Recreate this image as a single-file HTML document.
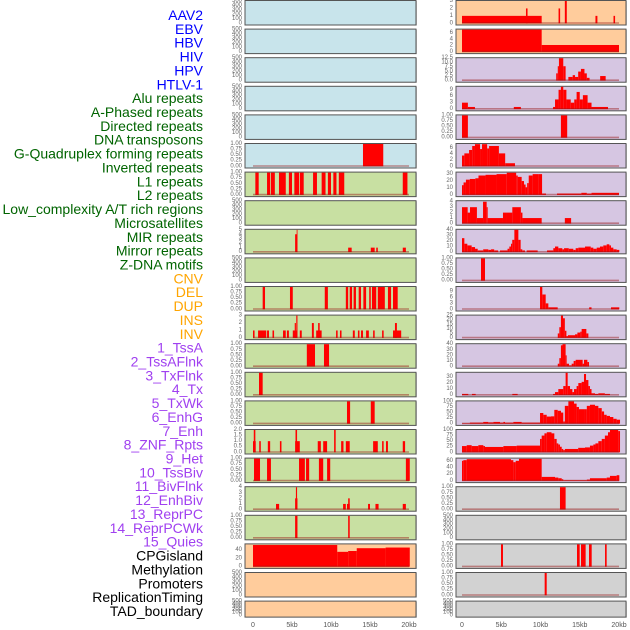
<!DOCTYPE html>
<html><head><meta charset="utf-8"><style>
html,body{margin:0;padding:0;background:#fff;}
svg{display:block;font-family:"Liberation Sans",sans-serif;}
</style></head><body>
<svg id="chart" width="630" height="630" viewBox="0 0 630 630"></svg>
<script>
// ---------- label data ----------
const trackLabels = ["AAV2","EBV","HBV","HIV","HPV","HTLV-1","Alu repeats","A-Phased repeats","Directed repeats","DNA transposons","G-Quadruplex forming repeats","Inverted repeats","L1 repeats","L2 repeats","Low_complexity A/T rich regions","Microsatellites","MIR repeats","Mirror repeats","Z-DNA motifs","CNV","DEL","DUP","INS","INV","1_TssA","2_TssAFlnk","3_TxFlnk","4_Tx","5_TxWk","6_EnhG","7_Enh","8_ZNF_Rpts","9_Het","10_TssBiv","11_BivFlnk","12_EnhBiv","13_ReprPC","14_ReprPCWk","15_Quies","CPGisland","Methylation","Promoters","ReplicationTiming","TAD_boundary"];
const labelGroups = [6,13,5,15,5];
const groupColors = ["#0000ff","#006400","#ffa500","#a040f0","#000000"];
const xTickLabels = ["0","5kb","10kb","15kb","20kb"];
const xTickValues = [0,5,10,15,20];

// ---------- series data: [startKb, endKb, value] ----------
const L05 = [[14.1,16.7,1]];
const L06 = [[0.3,0.73,1],[1.8,2.2,1],[2.3,2.8,1],[3.33,4.2,1],[4.6,5.0,1],[5.3,5.9,1],[6.0,6.5,1],[7.7,8.2,1],[8.8,9.3,1],[9.6,10.0,1],[10.3,10.7,1],[11.0,11.7,1],[19.2,19.8,1]];
const L08 = [[5.4,5.7,4],[5.6,5.7,5],[12.2,12.65,1],[15.1,15.6,1],[15.8,16.0,1],[19.2,19.6,1]];
const L10 = [[1.24,1.54,1],[4.74,5.1,1],[9.2,9.6,1],[11.9,12.2,1],[12.4,12.7,1],[12.9,13.2,1],[13.55,13.85,1],[14.15,14.5,1],[14.9,15.1,1],[15.25,15.8,1],[16.0,16.9,1],[17.3,17.7,1],[17.95,18.55,1]];
const L11 = [[0,0.2,1],[0.65,1.7,1],[1.8,2.05,1],[2.5,2.7,1],[3.85,4.2,1],[4.35,4.6,1],[5.1,5.7,1],[5.35,5.5,2],[5.55,5.7,3],[6.0,6.25,1],[7.55,7.8,2],[8.1,8.8,1],[8.35,8.55,2],[10.65,10.85,1],[11.15,11.35,1],[12.8,13.05,1],[13.45,13.65,1],[13.85,14.1,1],[14.5,14.85,1],[15.4,15.6,1],[16.55,16.75,1],[17.95,19.0,1],[18.2,18.45,2]];
const L12 = [[6.9,7.95,1],[9.1,9.75,1]];
const L13 = [[0.77,1.24,1]];
const L14 = [[12.05,12.45,1],[15.1,15.6,1]];
const L15 = [[0,0.35,1],[0.1,0.3,2],[0.8,1.0,1],[1.9,2.2,1],[3.45,3.65,1],[5.4,6.0,1],[5.45,5.65,2],[8.3,8.7,1],[9.0,9.5,1],[10.4,10.6,2],[11.3,11.6,1],[11.9,12.4,1],[15.4,16.0,1],[16.55,16.75,1],[17.05,17.3,1],[19.2,19.5,1]];
const L16 = [[0.13,0.9,1],[1.8,2.3,1],[5.9,6.65,1],[6.8,7.2,1],[8.45,9.0,1],[9.5,9.9,1],[19.6,20.1,1]];
const L17 = [[2.95,3.35,1],[5.4,5.7,2],[5.5,5.65,4],[11.55,11.9,1],[12.05,12.4,1],[12.2,12.4,2],[14.75,15.0,1],[15.7,16.1,1],[19.2,19.6,1]];
const L18 = [[5.4,5.7,1],[12.2,12.4,1]];
const L19 = [[0,10.8,52.5],[10.8,12.2,36],[12.2,13.3,38],[13.3,17.0,44.8],[17.0,20.1,46.4]];

const R00 = [[0,10.15,1],[8.15,8.35,2],[12.3,12.5,2],[13.1,13.35,3],[17.0,17.25,1],[19.3,19.5,1]];
const R01 = [[0,10.15,7.1],[10.15,20,2.2]];
const R02 = [[12.0,12.2,4],[12.2,12.35,8],[12.35,12.9,12.5],[12.9,13.2,8],[13.55,14.1,2],[14.1,14.4,3],[14.4,14.8,2],[14.8,15.15,5],[15.15,15.6,6.5],[15.6,15.9,4],[15.9,16.25,1.5],[17.6,18.3,2.5]];
const R03 = [[0,0.75,3],[0.75,1.65,1],[6.6,7.5,1],[11.6,11.85,1],[11.85,12.3,4.5],[12.3,12.6,9],[12.6,12.9,10.4],[12.9,13.3,9],[13.3,13.85,4.5],[13.85,14.3,3],[14.3,14.6,4.5],[14.6,15.0,8],[15.0,15.4,4.5],[15.4,16.0,6.5],[16.0,16.5,3],[16.5,18.6,1]];
const R04 = [[0,0.75,1],[12.6,13.4,1]];
const R05 = [[0,0.3,3.5],[0.3,0.9,4.2],[0.9,1.3,5.3],[1.3,1.65,6.6],[1.65,2.3,7.2],[2.3,2.55,5.6],[2.55,3.2,7.2],[3.2,3.45,5.8],[3.45,4.7,6.6],[4.7,5.5,4.2],[5.5,6.75,1]];
const R06 = [[0,0.2,14],[0.2,0.5,18],[0.5,1,22],[1,1.7,23],[1.7,2.1,24],[2.1,3.0,28],[3.0,4.4,29],[4.4,5.7,30],[5.7,6.9,32],[6.9,7.1,28],[7.1,7.6,26],[7.6,7.9,20],[7.9,8.1,15],[8.1,8.3,11],[8.3,8.5,17],[8.5,9.0,28],[9.0,9.7,30],[9.7,10.2,30],[10.2,10.7,2],[12.1,15.2,2],[15.2,15.9,3],[15.9,16.5,2],[16.5,18.6,3],[18.6,20,3]];
const R07 = [[0,0.72,3],[0.72,1.02,2],[1.02,1.9,3],[1.9,2.68,1],[2.68,3.14,4],[3.14,3.27,3],[3.27,5.22,1],[5.22,5.73,2],[5.73,6.41,2],[6.41,7.5,3],[7.5,7.7,2],[7.7,10.15,1],[13.1,13.9,1]];
const R08 = [[0,0.3,25],[0.3,0.68,15],[0.68,1.23,12],[1.23,1.66,9],[1.66,2.0,6],[2.0,2.7,3],[2.7,3.35,5],[3.35,3.7,4],[3.7,4.1,5],[4.1,4.6,3],[4.84,5.8,3],[5.8,6.03,6],[6.03,6.24,10],[6.24,6.4,15],[6.4,6.67,22],[6.67,7.18,40],[7.18,7.47,22],[7.47,7.68,5],[7.68,8.02,3],[8.24,9.64,3],[10.83,11.63,3],[11.63,11.85,7],[11.85,12.27,10],[12.27,12.78,7],[12.78,13.0,5],[13.0,13.6,7],[13.6,14.18,6],[14.18,14.48,4],[14.48,14.82,7],[14.82,15.67,8],[15.67,16.4,10],[16.4,16.73,8],[16.73,17.16,6],[17.16,17.58,8],[17.58,18.0,10],[18.0,18.43,12],[18.43,18.77,14],[18.77,18.98,12],[18.98,19.28,8],[19.28,19.7,5],[19.7,20.04,4]];
const R09 = [[2.42,2.93,1]];
const R10 = [[9.94,10.23,11.3],[10.23,10.66,7.5],[10.66,11.0,3],[11.0,12.19,1],[16.2,16.5,1],[18.98,20.04,1]];
const R11 = [[12.2,12.4,5],[12.4,12.6,12],[12.6,12.87,25],[12.87,13.1,22],[13.1,13.3,8],[13.3,13.5,2],[13.5,14.4,3],[14.4,14.7,4],[14.7,15.07,6],[15.07,15.24,7],[15.24,15.84,10],[15.84,16.1,5]];
const R12 = [[12.2,12.4,5],[12.4,12.6,15],[12.6,12.8,38],[12.8,13.2,40],[13.2,13.33,20],[13.33,13.63,5],[13.63,13.97,2],[13.97,14.22,5],[14.22,14.48,10],[14.48,15.37,12],[15.37,15.54,5],[15.54,15.97,12],[15.97,16.18,8]];
const R13 = [[0,0.8,2],[1.27,1.74,2],[6.41,7.09,2],[11.6,11.85,2],[11.85,12.27,5],[12.27,12.9,10],[12.9,13.2,15],[13.2,13.46,37],[13.46,13.76,15],[13.76,14.06,10],[14.06,14.27,5],[14.27,14.6,10],[14.6,14.82,15],[14.82,15.24,20],[15.24,15.54,22],[15.54,15.8,35],[15.8,16.1,25],[16.1,16.3,15],[16.3,16.5,10],[16.5,16.94,3],[16.94,17.37,2],[17.37,18.2,3],[18.2,18.85,2]];
const R14 = [[0,1.0,2],[1.0,2.7,5],[2.7,3.35,8],[3.35,4.0,6],[4.0,4.84,8],[4.84,5.27,5],[5.27,5.48,8],[5.48,6.54,5],[6.54,7.6,8],[7.6,9.94,5],[9.94,10.36,48],[10.36,10.79,40],[10.79,11.34,32],[11.34,11.76,33],[11.76,12.19,62],[12.19,12.61,58],[12.61,12.9,50],[12.9,13.1,10],[13.1,13.55,80],[13.55,14.27,100],[14.27,14.6,90],[14.6,14.9,75],[14.9,15.6,65],[15.6,15.9,65],[15.9,16.3,80],[16.3,16.94,85],[16.94,17.37,80],[17.37,17.8,70],[17.8,18.1,55],[18.1,18.43,40],[18.43,18.85,35],[18.85,19.28,30],[19.28,19.7,22],[19.7,20.13,18]];
const R15 = [[0,0.6,28],[0.6,1.23,32],[1.23,2.08,28],[2.08,2.72,32],[2.72,2.93,28],[2.93,5.27,24],[5.27,6.96,28],[6.96,9.94,30],[9.94,10.15,60],[10.15,10.5,75],[10.5,10.8,85],[10.8,11.4,90],[11.4,11.76,85],[11.76,12.06,60],[12.06,12.27,40],[12.27,12.48,35],[12.48,12.7,25],[12.7,12.9,15],[12.9,13.1,10],[13.1,14.8,15],[14.8,15.67,20],[15.67,16.3,22],[16.3,16.73,30],[16.73,17.0,35],[17.0,17.37,40],[17.37,17.8,50],[17.8,18.2,60],[18.2,18.6,75],[18.6,18.85,90],[18.85,19.9,100],[19.9,20.13,95]];
const R16 = [[0,0.17,60],[0.17,0.6,62],[0.6,6.24,65],[6.24,6.54,62],[6.54,6.84,56],[6.84,7.26,60],[7.26,10.15,66],[10.15,11.85,12],[11.85,12.27,10],[12.27,12.7,8],[12.7,12.9,5],[12.9,13.1,2],[13.1,15.9,2],[15.9,16.3,4],[16.3,18.43,8],[18.43,18.85,10],[18.85,19.7,15],[19.7,20.04,17]];
const R17 = [[12.48,13.2,1]];
const R19 = [[4.97,5.22,1],[14.65,14.99,1],[15.16,15.75,1],[16.18,16.52,1],[18.22,18.43,1]];
const R20 = [[10.53,10.79,1]];
const EMPTY = [];

// ---------- axis domains / ticks ----------
const ticks500 = [0,100,200,300,400,500];
const ticks1 = [0,0.25,0.5,0.75,1];
const leftTracks = [
 ["blue",EMPTY,500,ticks500],["blue",EMPTY,500,ticks500],["blue",EMPTY,500,ticks500],["blue",EMPTY,500,ticks500],["blue",EMPTY,500,ticks500],
 ["blue",L05,1,ticks1],["green",L06,1,ticks1],["green",EMPTY,500,ticks500],["green",L08,5,[0,1,2,3,4,5]],["green",EMPTY,500,ticks500],
 ["green",L10,1,ticks1],["green",L11,3,[0,1,2,3]],["green",L12,1,ticks1],["green",L13,1,ticks1],["green",L14,1,ticks1],
 ["green",L15,2,[0,0.5,1,1.5,2]],["green",L16,1,ticks1],["green",L17,4,[0,1,2,3,4]],["green",L18,1,ticks1],
 ["orange",L19,54,[0,20,40]],["orange",EMPTY,500,ticks500],["orange",EMPTY,500,ticks500]
];
const rightTracks = [
 ["orange",R00,3,[0,1,2,3]],["orange",R01,7.1,[0,2,4,6]],["purple",R02,12.5,[0,2.5,5,7.5,10,12.5]],["purple",R03,10.4,[0,3,6,9]],
 ["purple",R04,1,ticks1],["purple",R05,7.25,[0,2,4,6]],["purple",R06,32.2,[0,10,20,30]],["purple",R07,4.1,[0,1,2,3,4]],
 ["purple",R08,40,[0,10,20,30,40]],["purple",R09,1,ticks1],["purple",R10,11.3,[0,3,6,9]],["purple",R11,25,[0,5,10,15,20,25]],
 ["purple",R12,40,[0,10,20,30,40]],["purple",R13,37,[0,10,20,30]],["purple",R14,100,[0,25,50,75,100]],["purple",R15,100,[0,25,50,75,100]],
 ["purple",R16,66.7,[0,20,40,60]],["gray",R17,1,ticks1],["gray",EMPTY,500,ticks500],["gray",R19,1,ticks1],["gray",R20,1,ticks1],["gray",EMPTY,500,ticks500]
];
const bgColors = {blue:"#c8e4eb",green:"#c8e0a2",orange:"#ffcc9c",purple:"#d6c6e2",gray:"#d2d2d2"};

const NS="http://www.w3.org/2000/svg";
const svg=document.getElementById("chart");
function mk(tag,attrs,parent){const e=document.createElementNS(NS,tag);for(const k in attrs)e.setAttribute(k,attrs[k]);(parent||svg).appendChild(e);return e;}

// labels
let li=0;
labelGroups.forEach((n,g)=>{for(let k=0;k<n;k++){
  const t=mk("text",{x:203,y:15+li*13.86,"text-anchor":"end","dominant-baseline":"central","font-size":"14",fill:groupColors[g]});
  t.textContent=trackLabels[li];
  
  
  li++;}});

function fmt(v,ticks){const step=ticks[1]-ticks[0];if(step===0.25)return v.toFixed(2);if(step===2.5||step===0.5)return v.toFixed(1);return String(v);}

function drawColumn(tracks,px0,px1,xZero,pxPerKb,side){
  const xs=kb=>xZero+kb*pxPerKb;
  tracks.forEach((tr,i)=>{
    const [bg,segs,ymax,ticks]=tr;
    const top=i*28.6, h=(i===21)?16:24.5;
    const g=mk("g",{});
    
    
    mk("rect",{x:px0+1,y:top+1,width:px1-px0,height:h,fill:"#999",opacity:0.5},g);
    const r=mk("rect",{x:px0,y:top+0.5,width:px1-px0,height:h,fill:bgColors[bg],stroke:"#555","stroke-width":1},g);
    
    
    const y0=top+h-1.2, span=h-2.2;
    const ys=v=>y0-v/ymax*span;
    segs.forEach(s=>{
      const b=mk("rect",{x:xs(s[0]),y:ys(s[2]),width:Math.max(0.8,xs(s[1])-xs(s[0])),height:y0-ys(s[2]),fill:"#ff0000"},g);
      
      
    });
    if(ymax!==500){mk("line",{x1:xs(0),x2:xs(20),y1:y0-0.3,y2:y0-0.3,stroke:"rgba(150,20,20,0.45)","stroke-width":1.6},g);}
    ticks.forEach(v=>{
      const t=mk("text",{x:px0-3,y:ys(v),"text-anchor":"end","dominant-baseline":"central","font-size":"6",fill:"#666"},g);
      t.textContent=fmt(v,ticks);
      
      
    });
  });
  xTickValues.forEach((v,k)=>{
    const t=mk("text",{x:xs(v),y:627,"text-anchor":"middle","font-size":"7",fill:"#555"});
    t.textContent=xTickLabels[k];
    
    
  });
}
drawColumn(leftTracks,245,416,253,7.8,'left');
drawColumn(rightTracks,456,626,462,7.85,'right');
</script>
</body></html>
